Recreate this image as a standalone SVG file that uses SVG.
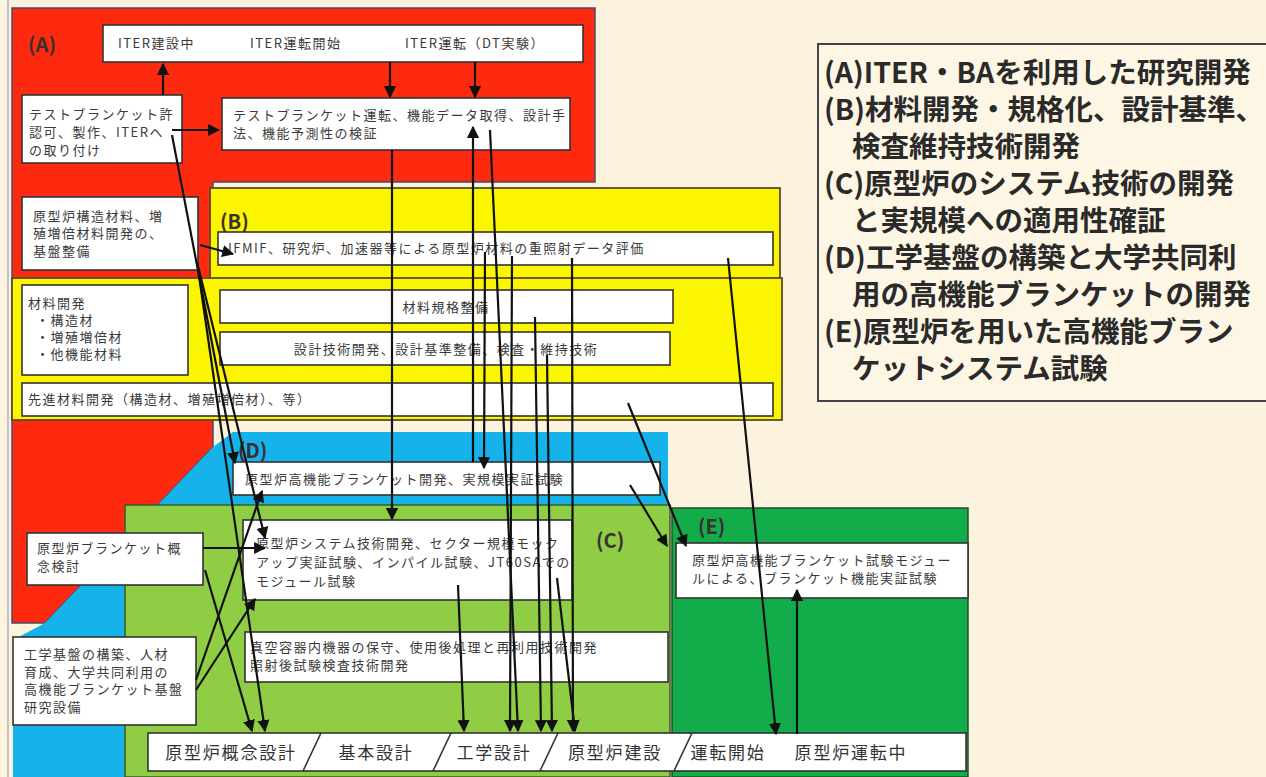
<svg xmlns="http://www.w3.org/2000/svg" width="1266" height="777" viewBox="0 0 1266 777">
<style>
.box{fill:#ffffff;stroke:#333333;stroke-width:1.6}
.t{font-family:"Noto Sans CJK JP","Noto Sans",sans-serif;font-size:13px;letter-spacing:1.5px;fill:#3a3a3a}
.tl{font-family:"Noto Sans CJK JP","Noto Sans",sans-serif;font-size:17px;letter-spacing:1.8px;fill:#333333}
.lab{font-family:"Noto Sans CJK JP","Noto Sans",sans-serif;font-size:20px;font-weight:bold;fill:#3a3030}
.leg{font-family:"Noto Sans CJK JP","Noto Sans",sans-serif;font-size:28.5px;font-weight:bold;fill:#2a2a2a}
.c{fill:none;stroke:#111111;stroke-width:2.2;marker-end:url(#ah)}
</style>
<defs>
<marker id="ah" viewBox="0 0 10 10" refX="9" refY="5" markerWidth="5.5" markerHeight="5.5" orient="auto" markerUnits="strokeWidth">
<path d="M0,0 L10,5 L0,10 z" fill="#111111"/>
</marker>
</defs>
<rect x="0" y="0" width="1266" height="777" fill="#fcf3de"/>
<line x1="8" y1="0" x2="8" y2="777" stroke="#c8c0c8" stroke-width="2"/>

<g id="regionA">
<polygon points="12,8 595,8 595,182 213,182 213,447 45,623 12,623" fill="#fe2a10" stroke="#4a4a6a" stroke-width="1.5"/>
<text class="lab" x="28" y="52">(A)</text>
</g>
<g id="regionD-bg">
<polygon points="213,447 233,432 668,432 668,505 125,505 125,777 13,777 13,640 45,623" fill="#16b2ea"/>
</g>
<g id="regionB">
<rect x="210" y="188" width="570" height="92" fill="#fbf500" stroke="#5a4a2a" stroke-width="1.8"/>
<rect x="12" y="278" width="770" height="142" fill="#fbf500" stroke="#5a4a2a" stroke-width="1.8"/>
<text class="lab" x="220" y="229">(B)</text>
</g>
<g id="regionC">
<rect x="125" y="505" width="545" height="272" fill="#8fcd45" stroke="#3a5a2a" stroke-width="1.5"/>
<text class="lab" x="596" y="548">(C)</text>
</g>
<g id="regionE">
<rect x="672" y="508" width="296" height="269" fill="#12ad4a" stroke="#2a4a2a" stroke-width="1.5"/>
<text class="lab" x="698" y="534">(E)</text>
</g>
<g id="regionD">
<text class="lab" x="238" y="458">(D)</text>
</g>

<g id="n-iter">
<rect class="box" x="103" y="25" width="480" height="37"/>
<text class="t" x="118" y="48">ITER建設中</text>
<text class="t" x="250" y="48">ITER運転開始</text>
<text class="t" x="405" y="48">ITER運転（DT実験）</text>
</g>
<g id="n-tb-install">
<rect class="box" x="22" y="95" width="160" height="68"/>
<text class="t" x="29" y="119">テストブランケット許</text>
<text class="t" x="29" y="137">認可、製作、ITERへ</text>
<text class="t" x="29" y="155">の取り付け</text>
</g>
<g id="n-tb-op">
<rect class="box" x="222" y="98" width="348" height="52"/>
<text class="t" x="233" y="120">テストブランケット運転、機能データ取得、設計手</text>
<text class="t" x="233" y="138">法、機能予測性の検証</text>
</g>
<g id="n-base-mat">
<rect class="box" x="22" y="197" width="176" height="73"/>
<text class="t" x="33" y="221">原型炉構造材料、増</text>
<text class="t" x="33" y="238">殖増倍材料開発の、</text>
<text class="t" x="33" y="256">基盤整備</text>
</g>
<g id="n-ifmif">
<rect class="box" x="218" y="232" width="555" height="33"/>
<text class="t" x="228" y="253">IFMIF、研究炉、加速器等による原型炉材料の重照射データ評価</text>
</g>
<g id="n-matdev">
<rect class="box" x="22" y="285" width="166" height="90"/>
<text class="t" x="28" y="308">材料開発</text>
<text class="t" x="36" y="325">・構造材</text>
<text class="t" x="36" y="342">・増殖増倍材</text>
<text class="t" x="36" y="359">・他機能材料</text>
</g>
<g id="n-matstd">
<rect class="box" x="220" y="290" width="453" height="33"/>
<text class="t" x="446" y="312" text-anchor="middle">材料規格整備</text>
</g>
<g id="n-design">
<rect class="box" x="220" y="332" width="450" height="33"/>
<text class="t" x="446" y="354" text-anchor="middle">設計技術開発、設計基準整備、検査・維持技術</text>
</g>
<g id="n-adv">
<rect class="box" x="22" y="383" width="751" height="33"/>
<text class="t" x="28" y="404">先進材料開発（構造材、増殖増倍材）、等）</text>
</g>
<g id="n-d">
<rect class="box" x="233" y="462" width="427" height="33"/>
<text class="t" x="245" y="484">原型炉高機能ブランケット開発、実規模実証試験</text>
</g>
<g id="n-c1">
<rect class="box" x="243" y="520" width="329" height="80"/>
<text class="t" x="256" y="548">原型炉システム技術開発、セクター規模モック</text>
<text class="t" x="256" y="567">アップ実証試験、インパイル試験、JT60SAでの</text>
<text class="t" x="256" y="586">モジュール試験</text>
</g>
<g id="n-c2">
<rect class="box" x="245" y="632" width="423" height="50"/>
<text class="t" x="250" y="652">真空容器内機器の保守、使用後処理と再利用技術開発</text>
<text class="t" x="250" y="670">照射後試験検査技術開発</text>
</g>
<g id="n-e">
<rect class="box" x="676" y="543" width="292" height="55"/>
<text class="t" x="692" y="565">原型炉高機能ブランケット試験モジュー</text>
<text class="t" x="692" y="583">ルによる、ブランケット機能実証試験</text>
</g>
<g id="n-concept">
<rect class="box" x="27" y="533" width="176" height="52"/>
<text class="t" x="37" y="553">原型炉ブランケット概</text>
<text class="t" x="37" y="571">念検討</text>
</g>
<g id="n-infra">
<rect class="box" x="13" y="637" width="183" height="88"/>
<text class="t" x="24" y="659">工学基盤の構築、人材</text>
<text class="t" x="24" y="677">育成、大学共同利用の</text>
<text class="t" x="24" y="694">高機能ブランケット基盤</text>
<text class="t" x="24" y="712">研究設備</text>
</g>
<g id="n-timeline">
<rect class="box" x="148" y="733" width="818" height="38"/>
<line x1="303" y1="771" x2="321" y2="733" stroke="#333" stroke-width="1.6"/>
<line x1="433" y1="771" x2="451" y2="733" stroke="#333" stroke-width="1.6"/>
<line x1="540" y1="771" x2="558" y2="733" stroke="#333" stroke-width="1.6"/>
<line x1="674" y1="771" x2="692" y2="733" stroke="#333" stroke-width="1.6"/>
<text class="tl" x="231" y="759" text-anchor="middle">原型炉概念設計</text>
<text class="tl" x="376" y="759" text-anchor="middle">基本設計</text>
<text class="tl" x="494" y="759" text-anchor="middle">工学設計</text>
<text class="tl" x="615" y="759" text-anchor="middle">原型炉建設</text>
<text class="tl" x="728" y="759" text-anchor="middle">運転開始</text>
<text class="tl" x="851" y="759" text-anchor="middle">原型炉運転中</text>
</g>
<g id="legend">
<rect x="818" y="44" width="470" height="357" fill="#fdf6e4" stroke="#444" stroke-width="2"/>
<text class="leg" x="824" y="83">(A)ITER・BAを利用した研究開発</text>
<text class="leg" x="824" y="120">(B)材料開発・規格化、設計基準、</text>
<text class="leg" x="852" y="157">検査維持技術開発</text>
<text class="leg" x="824" y="194">(C)原型炉のシステム技術の開発</text>
<text class="leg" x="852" y="231">と実規模への適用性確証</text>
<text class="leg" x="824" y="268">(D)工学基盤の構築と大学共同利</text>
<text class="leg" x="852" y="305">用の高機能ブランケットの開発</text>
<text class="leg" x="824" y="342">(E)原型炉を用いた高機能ブラン</text>
<text class="leg" x="852" y="379">ケットシステム試験</text>
</g>

<g id="connectors">
<path class="c" d="M163,95 L163,64"/>
<path class="c" d="M390,62 L390,97"/>
<path class="c" d="M475,62 L475,97"/>
<path class="c" d="M172,130 L219,130"/>
<path class="c" d="M392,150 L392,519"/>
<path class="c" d="M473,462 L473,127"/>
<path class="c" d="M485,252 L484,468"/>
<path class="c" d="M490,130 L518,731"/>
<path class="c" d="M512,256 L510,731"/>
<path class="c" d="M535,317 L541,731"/>
<path class="c" d="M547,355 L552,731"/>
<path class="c" d="M572,258 L573,731"/>
<path class="c" d="M557,578 L575,731"/>
<path class="c" d="M458,585 L464,731"/>
<path class="c" d="M728,258 L776,734"/>
<path class="c" d="M797,734 L797,590"/>
<path class="c" d="M628,403 L686,546"/>
<path class="c" d="M630,485 L667,546"/>
<path class="c" d="M200,245 L233,254"/>
<path class="c" d="M172,135 L235,463"/>
<path class="c" d="M197,262 L265,538"/>
<path class="c" d="M197,262 L265,731"/>
<path class="c" d="M203,548 L265,548"/>
<path class="c" d="M205,570 L252,731"/>
<path class="c" d="M196,680 L262,491"/>
<path class="c" d="M196,690 L255,599"/>
</g>
</svg>
